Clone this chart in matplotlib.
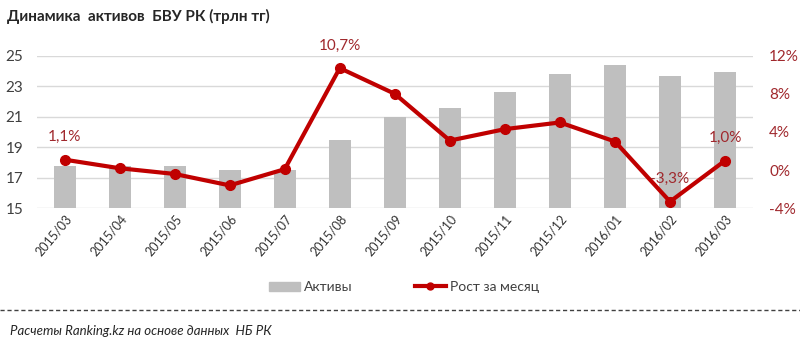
import matplotlib.pyplot as plt
from matplotlib.lines import Line2D
from matplotlib.patches import Patch
import numpy as np

# monthly data, assets in trillion tenge and month-on-month growth in %
months = ['2015/03', '2015/04', '2015/05', '2015/06', '2015/07', '2015/08',
          '2015/09', '2015/10', '2015/11', '2015/12', '2016/01', '2016/02',
          '2016/03']
assets = [17.8, 17.8, 17.8, 17.5, 17.5, 19.5, 21.0, 21.6, 22.6, 23.8, 24.4,
          23.7, 23.9]
growth = [1.1, 0.2, -0.4, -1.6, 0.1, 10.7, 8.0, 3.1, 4.3, 5.0, 3.0, -3.3, 1.0]
labelled = {0: '1,1%', 5: '10,7%', 11: '-3,3%', 12: '1,0%'}

plt.rcParams['font.family'] = ['Lato', 'DejaVu Sans']

bar_col = '#BFBFBF'
line_col = '#C00000'
lab_col = '#A0282D'
text_col = '#404040'

fig = plt.figure(figsize=(8, 3.44), dpi=100)
ax = fig.add_axes([0.04625, 0.3945, 0.8945, 0.4436])
x = np.arange(len(months))

ax.bar(x, assets, width=0.4, color=bar_col, zorder=2)
ax.set_ylim(15, 25)
ax.set_yticks([15, 17, 19, 21, 23, 25])
ax.set_xlim(-0.5, len(months) - 0.5)
ax.grid(axis='y', color='#D9D9D9', linewidth=1, zorder=0)
ax.set_axisbelow(True)
for s in ax.spines.values():
    s.set_visible(False)
ax.tick_params(axis='y', length=0, labelsize=11, labelcolor=text_col, pad=10)
ax.tick_params(axis='x', length=0, labelsize=9, labelcolor='#333333', pad=3)
ax.set_xticks(x)
ax.set_xticklabels(months, rotation=50, ha='right', rotation_mode='anchor')

ax2 = ax.twinx()
ax2.plot(x, growth, color=line_col, linewidth=3, marker='o', markersize=7,
         zorder=3)
ax2.set_ylim(-4, 12)
ax2.set_yticks([-4, 0, 4, 8, 12])
ax2.set_yticklabels(['-4%', '0%', '4%', '8%', '12%'])
for s in ax2.spines.values():
    s.set_visible(False)
ax2.tick_params(axis='y', length=0, labelsize=11, labelcolor=lab_col, pad=12)

for i, txt in labelled.items():
    ax2.annotate(txt, (x[i], growth[i]), xytext=(0, 11),
                 textcoords='offset points', ha='center', va='bottom',
                 fontsize=11, color=lab_col)

fig.text(0.009, 0.953, 'Динамика  активов  БВУ РК (трлн тг)', fontsize=11,
         fontweight='bold', color='#262626', va='center')

handles = [Patch(color=bar_col),
           Line2D([], [], color=line_col, linewidth=3, marker='o',
                  markersize=5)]
fig.legend(handles, ['Активы', 'Рост за месяц'], loc='center',
           bbox_to_anchor=(0.505, 0.165), ncol=2, frameon=False, fontsize=10,
           handlelength=2.2, handletextpad=0.3, columnspacing=4.5,
           labelcolor=text_col)

fig.add_artist(Line2D([0.0, 1.0], [0.098, 0.098], transform=fig.transFigure,
                      color='#404040', linewidth=1, linestyle=(0, (3, 2))))
fig.text(0.012, 0.038, 'Расчеты Ranking.kz на основе данных  НБ РК',
         fontsize=9.5, style='italic', color='#262626', va='center')

fig.savefig('out.png', dpi=100)
